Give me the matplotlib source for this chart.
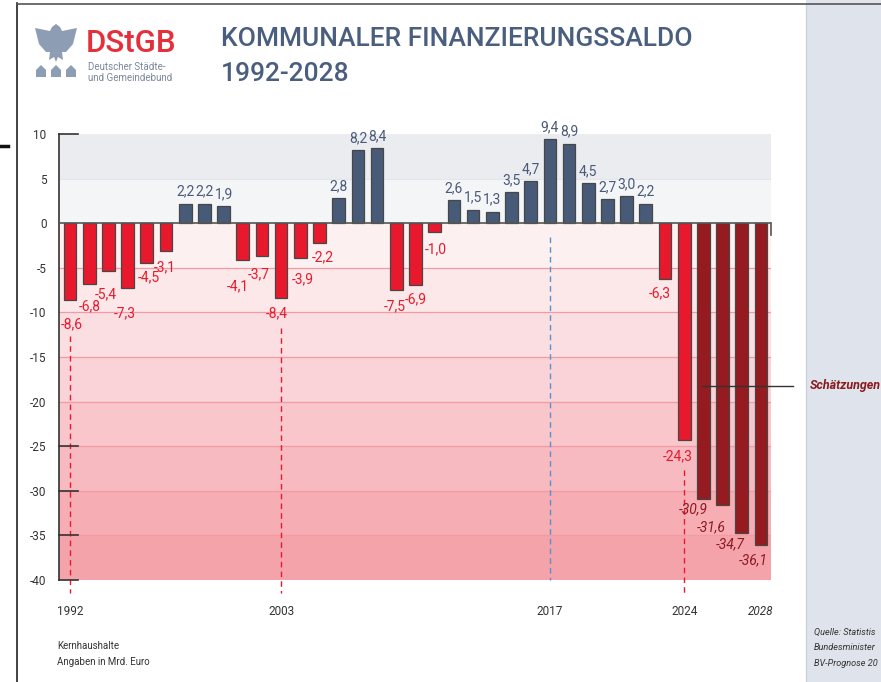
import numpy as np
import matplotlib
matplotlib.use("Agg")
import matplotlib.pyplot as plt
from matplotlib.patches import Polygon, Rectangle
from matplotlib.lines import Line2D

plt.rcParams['font.family'] = ['Roboto', 'DejaVu Sans']

# data
years = list(range(1992, 2029))
saldo = [-8.6, -6.8, -5.4, -7.3, -4.5, -3.1, 2.2, 2.2, 1.9, -4.1, -3.7, -8.4,
         -3.9, -2.2, 2.8, 8.2, 8.4, -7.5, -6.9, -1.0, 2.6, 1.5, 1.3, 3.5,
         4.7, 9.4, 8.9, 4.5, 2.7, 3.0, 2.2, -6.3, -24.3, -30.9, -31.6, -34.7, -36.1]
first_estimate = 2025
marked_years = [1992, 2003, 2017, 2024]
year_labels = ['1992', '2003', '2017', '2024', '2028']
yticks = [10, 5, 0, -5, -10, -15, -20, -25, -30, -35, -40]
source_lines = ['Quelle: Statistis', 'Bundesminister', 'BV-Prognose 20']

# label nudges for negative values: (dx in years, offset below bar)
neg_nudge = {1992: (0.1, -2.7), 1993: (0.05, -2.5), 1994: (-0.12, -2.6), 1995: (-0.13, -2.8),
             1996: (0.12, -1.55), 1997: (-0.05, -1.8), 2001: (-0.25, -3.0), 2002: (-0.15, -2.0),
             2003: (-0.2, -1.7), 2004: (0.15, -2.4), 2005: (0.18, -1.6), 2009: (-0.07, -1.8),
             2010: (0.0, -1.6), 2011: (0.07, -1.9), 2023: (-0.26, -1.55), 2024: (-0.34, -1.8),
             2025: (-0.55, -1.2), 2026: (-0.57, -2.5), 2027: (-0.58, -1.3), 2028: (-0.38, -1.7)}

W, H = 881, 682
fig = plt.figure(figsize=(W / 100, H / 100), dpi=100)

def fx(px):
    return px / W

def fy(py):
    return 1 - py / H

# frame / side panel
fig.patches.append(Rectangle((fx(806), 0), fx(W - 806), 1, transform=fig.transFigure,
                             facecolor='#dfe3eb', edgecolor='none', zorder=0))
fig.lines.append(Line2D([fx(806), fx(806)], [0, fy(4)], transform=fig.transFigure, color='#cdd2dc', lw=1))
fig.lines.append(Line2D([fx(17), fx(17)], [0, fy(3)], transform=fig.transFigure, color='#222222', lw=1.2))
fig.lines.append(Line2D([fx(17), 1], [fy(3.5), fy(3.5)], transform=fig.transFigure, color='#555555', lw=1.2))
fig.lines.append(Line2D([0, fx(8)], [fy(146), fy(146)], transform=fig.transFigure, color='#111111', lw=2.5))

# logo
logo_c = '#8d9db3'
eagle = [(56, 24), (60, 27), (62, 31), (77, 28), (75, 36), (73, 44), (66, 52), (62, 52), (63, 60),
         (58, 57), (56, 62), (54, 57), (49, 60), (50, 52), (46, 52), (39, 44), (37, 36), (35, 28),
         (50, 31), (52, 27)]
fig.patches.append(Polygon([(fx(a), fy(b)) for a, b in eagle], closed=True, transform=fig.transFigure,
                           facecolor=logo_c, edgecolor='none'))
for hx in [41, 56, 71]:
    house = [(hx - 5, 77), (hx - 5, 70), (hx, 65), (hx + 5, 70), (hx + 5, 77)]
    fig.patches.append(Polygon([(fx(a), fy(b)) for a, b in house], closed=True, transform=fig.transFigure,
                               facecolor=logo_c, edgecolor='none'))
fig.text(fx(86), fy(44), 'DStGB', color='#e5303b', fontsize=22.5, fontweight='medium',
         va='center', ha='left')
fig.text(fx(88), fy(67), 'Deutscher Städte-', color='#7a8799', fontsize=7, va='center')
fig.text(fx(88), fy(78), 'und Gemeindebund', color='#7a8799', fontsize=7, va='center')

# title
title_c = '#4a5f7e'
fig.text(fx(221), fy(39), 'KOMMUNALER FINANZIERUNGSSALDO', color=title_c, fontsize=19,
         fontweight='medium', va='center')
fig.text(fx(221), fy(74), '1992-2028', color=title_c, fontsize=19, fontweight='medium', va='center')

# axes
ax = fig.add_axes([fx(59), fy(580), fx(771 - 59), fy(134) - fy(580)])
x0 = 1992 - 11 / 19.194
x1 = 2028 + 10 / 19.194
ax.set_xlim(x0, x1)
ax.set_ylim(-40, 10)

band_cols = ['#ebecf0', '#f4f5f7', '#fdf0f1', '#fce7e9', '#fadee1', '#f9d3d7',
             '#f8c6cb', '#f7bac0', '#f6adb3', '#f5a3aa']
for i, c in enumerate(band_cols):
    top = 10 - 5 * i
    ax.axhspan(top - 5, top, color=c, lw=0, zorder=0)
for yv in [-5, -10, -15, -20, -25, -30, -35]:
    ax.axhline(yv, color='#f39aa3', lw=0.9, zorder=0.5)
ax.axhline(5, color='#e3e5ea', lw=0.8, zorder=0.5)

pos_c = '#475a78'
neg_c = '#e8192c'
est_c = '#951b20'
cols = []
for y, v in zip(years, saldo):
    if v >= 0:
        cols.append(pos_c)
    elif y >= first_estimate:
        cols.append(est_c)
    else:
        cols.append(neg_c)
ax.bar(years, saldo, width=0.66, color=cols, edgecolor='#474747', linewidth=0.9, zorder=3)

# labels
for y, v in zip(years, saldo):
    txt = f'{v:.1f}'.replace('.', ',')
    if v >= 0:
        ax.text(y, v + 1.35, txt, color='#4a5a78', fontsize=10, ha='center', va='center', zorder=4)
    else:
        dx, off = neg_nudge.get(y, (0, -1.7))
        est = y >= first_estimate
        ax.text(y + dx, v + off, txt, color=('#8b1a1f' if est else neg_c), fontsize=10,
                ha='center', va='center', style=('italic' if est else 'normal'), zorder=4)

# dashed markers
dash_spans = {1992: (-12.6, -41.5, neg_c), 2003: (-11.8, -41.5, neg_c),
              2017: (-1.6, -40, '#5b8fd0'), 2024: (-27.7, -41.6, neg_c)}
for yr in marked_years:
    a, b, c = dash_spans[yr]
    ax.plot([yr, yr], [a, b], color=c, lw=1, ls=(0, (4, 3)), clip_on=False, zorder=2)

# zero line and axis
ax.axhline(0, color='#555555', lw=1.2, zorder=3.5)
ax.plot([x1, x1], [0, -1.3], color='#555555', lw=1.2, clip_on=False, zorder=3.5)
for s in ['top', 'right', 'bottom']:
    ax.spines[s].set_visible(False)
ax.spines['left'].set_color('#333333')
ax.spines['left'].set_linewidth(1.2)
ax.set_yticks(yticks)
ax.set_yticklabels([str(t) for t in yticks])
ax.tick_params(axis='y', length=0, pad=9, labelsize=8.5, labelcolor='#333333')
for t in [10, -25, -30, -35, -40]:
    ax.plot([x0, x0 + 1.0], [t, t], color='#333333', lw=1.2, zorder=5, clip_on=False)
ax.set_xticks([])

for lab in year_labels:
    yr = int(lab)
    ax.text(yr, -43.5, lab, ha='center', va='center', fontsize=8.5, color='#333333',
            style=('italic' if yr >= first_estimate else 'normal'))

# estimate annotation
fig.lines.append(Line2D([fx(702), fx(793)], [fy(386), fy(386)], transform=fig.transFigure,
                        color='#333333', lw=1))
fig.text(fx(810), fy(385), 'Schätzungen', color='#8b1a1f', fontsize=9, style='italic',
         fontweight='bold', va='center', ha='left')

# notes
fig.text(fx(57), fy(646), 'Kernhaushalte', fontsize=7, color='#333333', va='center')
fig.text(fx(57), fy(662), 'Angaben in Mrd. Euro', fontsize=7, color='#333333', va='center')
for i, line in enumerate(source_lines):
    fig.text(fx(814), fy(632 + 16 * i), line, fontsize=6.6, color='#333333',
             style='italic', va='center')

fig.savefig('out.png', dpi=100)
